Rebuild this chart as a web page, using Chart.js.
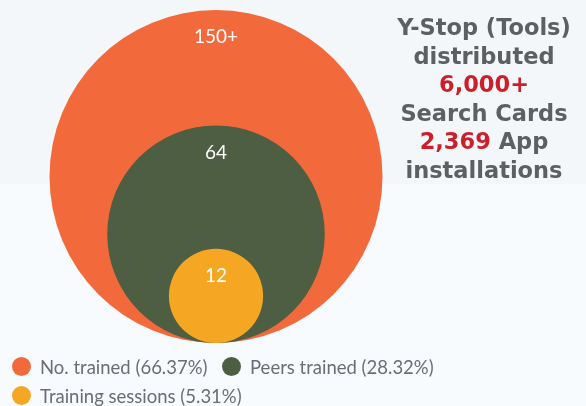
<!DOCTYPE html>
<html>
<head>
<meta charset="utf-8">
<script src="https://cdn.jsdelivr.net/npm/chart.js@4.4.1/dist/chart.umd.min.js"></script>
<style>
  html, body { margin: 0; padding: 0; }
  body {
    width: 586px; height: 406px; overflow: hidden; position: relative;
    background: linear-gradient(#f4f7fa 0, #f4f7fa 184px, #f7fbfe 184px, #f7fbfe 100%);
    font-family: Lato, sans-serif;
  }
  #wrap { position: absolute; left: 0; top: 0; width: 586px; height: 406px; }
  #side {
    position: absolute; left: 384px; top: 13px; width: 200px;
    text-align: center; font-family: "DejaVu Sans", sans-serif; font-weight: 700;
    font-size: 22.5px; line-height: 28.5px; color: #5e5f60;
  }
  #side .red { color: #cc1e2b; }
  #legend { position: absolute; left: 0; top: 0; font-size: 18.5px; color: #6a6e73; }
  #legend .item { position: absolute; white-space: nowrap; height: 29px; display: flex; align-items: center; }
  #legend .dot { display: inline-block; width: 19px; height: 19px; border-radius: 50%; margin-right: 9px; }
</style>
</head>
<body>
<div id="wrap"><canvas id="bubbleChart" width="586" height="406"></canvas></div>
<div id="side">
  Y-Stop (Tools)<br>distributed<br><span class="red">6,000+</span><br>Search Cards<br><span class="red">2,369</span> App<br>installations
</div>
<div id="legend"></div>
<script>
// chart data
const categories = ['No. trained', 'Peers trained', 'Training sessions'];
const values = [150, 64, 12];
const valueLabels = ['150+', '64', '12'];
const colors = ['#f26a3b', '#4e5e42', '#f5a623'];

const total = values.reduce((a, b) => a + b, 0);
const maxRoot = Math.sqrt(Math.max(...values));

// legend (html so the spacing matches)
const legendPos = [[12, 352], [222, 352], [12, 381]];
const legend = document.getElementById('legend');
categories.forEach((c, i) => {
  const item = document.createElement('div');
  item.className = 'item';
  item.style.left = legendPos[i][0] + 'px';
  item.style.top = legendPos[i][1] + 'px';
  const pct = (values[i] / total * 100).toFixed(2);
  item.innerHTML = '<span class="dot" style="background:' + colors[i] + '"></span>' + c + ' (' + pct + '%)';
  legend.appendChild(item);
});

// labels near the top of each circle
const topLabels = {
  id: 'topLabels',
  afterDatasetsDraw(chart) {
    const ctx = chart.ctx;
    const meta = chart.getDatasetMeta(0);
    ctx.save();
    ctx.fillStyle = '#ffffff';
    ctx.font = '19px Lato';
    ctx.textAlign = 'center';
    ctx.textBaseline = 'middle';
    meta.data.forEach((el, i) => {
      ctx.fillText(valueLabels[i], el.x, el.y - el.options.radius + 27);
    });
    ctx.restore();
  }
};

const ctx = document.getElementById('bubbleChart').getContext('2d');
const bubbleChart = new Chart(ctx, {
  type: 'bubble',
  data: {
    labels: categories,
    datasets: [{
      // circles rest on the baseline, area follows the value
      data: values.map(v => ({ x: 0, y: Math.sqrt(v) })),
      backgroundColor: colors,
      borderWidth: 0,
      hoverBorderWidth: 0,
      hoverRadius: 0,
      clip: false
    }]
  },
  options: {
    responsive: false,
    animation: false,
    events: [],
    layout: { autoPadding: false, padding: { left: 0, right: 154, top: 10, bottom: 63 } },
    scales: {
      x: { display: false, min: -1, max: 1 },
      y: { display: false, min: 0, max: 2 * maxRoot }
    },
    plugins: {
      legend: { display: false },
      tooltip: { enabled: false }
    }
  },
  plugins: [topLabels]
});

// radius in pixels from the y scale, once it is laid out
const ys = bubbleChart.scales.y;
bubbleChart.data.datasets[0].data = values.map(v => ({
  x: 0,
  y: Math.sqrt(v),
  r: ys.getPixelForValue(0) - ys.getPixelForValue(Math.sqrt(v))
}));
bubbleChart.update();
</script>
</body>
</html>
